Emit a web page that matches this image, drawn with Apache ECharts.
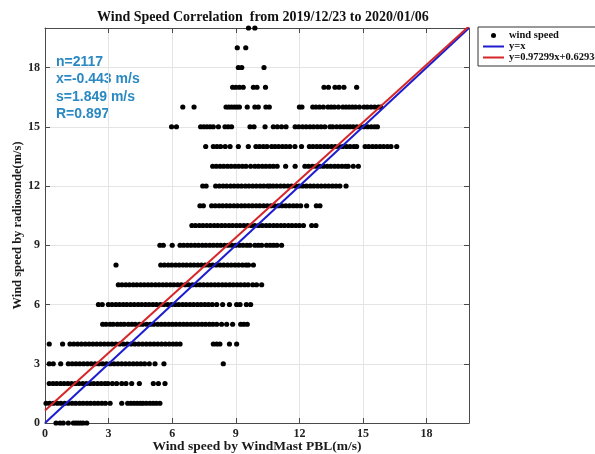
<!DOCTYPE html>
<html>
<head>
<meta charset="utf-8">
<script src="https://cdn.jsdelivr.net/npm/echarts@6/dist/echarts.min.js"></script>
<style>
  html, body { margin: 0; padding: 0; background: #fff; }
  #chart { width: 595px; height: 454px; }
</style>
</head>
<body>
<div id="chart"></div>
<script>
// Radiosonde wind speed levels (m/s) and the WindMast PBL speeds (m/s) observed at each level
const radiosondeLevels = [0, 1, 2, 3, 4, 5, 6, 7, 8, 9, 10, 11, 12, 13, 14, 15, 16, 17, 18, 19, 20];

const ws0 = [0.52, 0.71, 0.86, 1.1, 1.34, 1.45, 1.56, 1.68, 1.8, 1.97];
const ws1 = [0.05, 0.22, 0.4, 0.58, 0.75, 0.93, 1.1, 1.28, 1.45, 1.63, 1.8, 1.98, 2.15, 2.33, 2.5, 2.68, 2.85, 3.07,
  3.62, 3.9, 4.05, 4.2, 4.35, 4.5, 4.62, 4.78, 4.95, 5.1, 5.25, 5.42];
const ws2 = [0.2, 0.38, 0.55, 0.73, 0.9, 1.08, 1.25, 1.43, 1.6, 1.78, 1.95, 2.13, 2.3, 2.48, 2.65, 2.83, 2.97,
  3.18, 3.38, 3.62, 3.82, 4.09, 4.45, 5.11, 5.35, 5.66];
const ws3 = [0.2, 0.39, 0.74, 1.1, 1.28, 1.46, 1.64, 1.82, 2.0, 2.18, 2.36, 2.54, 2.72, 2.9, 3.08, 3.26, 3.44, 3.62,
  3.8, 3.98, 4.16, 4.34, 4.52, 4.7, 4.92, 5.19, 5.61, 8.41];
const ws4 = [0.2, 0.83, 1.18, 1.36, 1.54, 1.72, 1.9, 2.08, 2.26, 2.44, 2.62, 2.8, 2.98, 3.16, 3.34, 3.52, 3.7, 3.88,
  4.06, 4.24, 4.42, 4.6, 4.78, 4.96, 5.14, 5.32, 5.5, 5.68, 5.86, 6.04, 6.2, 6.37, 7.94, 8.1, 8.25, 8.7, 9.04];
const ws5 = [2.72, 2.88, 3.07, 3.22, 3.41, 3.58, 3.74, 3.93, 4.1, 4.26, 4.45, 4.61, 4.8, 4.97, 5.13, 5.32, 5.49, 5.66,
  5.84, 6.01, 6.18, 6.36, 6.53, 6.7, 6.88, 7.05, 7.22, 7.4, 7.57, 7.75, 7.92, 8.1, 8.33, 8.57, 8.85, 9.23, 9.38, 9.54];
const ws6 = [2.52, 2.7, 2.99, 3.16, 3.34, 3.51, 3.69, 3.86, 4.04, 4.21, 4.39, 4.56, 4.74, 4.91, 5.09, 5.26, 5.44,
  5.61, 5.79, 5.96, 6.14, 6.31, 6.49, 6.66, 6.84, 7.01, 7.19, 7.36, 7.54, 7.71, 7.89, 8.1, 8.38, 8.7, 9.04, 9.2, 9.5, 9.7];
const ws7 = [3.46, 3.63, 3.81, 3.98, 4.16, 4.33, 4.51, 4.68, 4.86, 5.03, 5.21, 5.38, 5.56, 5.73, 5.91, 6.08, 6.26,
  6.43, 6.61, 6.78, 6.96, 7.13, 7.31, 7.48, 7.66, 7.83, 8.01, 8.18, 8.36, 8.53, 8.71, 8.88, 9.06, 9.23, 9.41, 9.58,
  9.8, 9.98, 10.22];
const ws8 = [3.35, 5.46, 5.63, 5.81, 5.98, 6.16, 6.33, 6.51, 6.68, 6.86, 7.03, 7.21, 7.38, 7.56, 7.73, 7.91, 8.08,
  8.26, 8.43, 8.61, 8.78, 8.96, 9.13, 9.31, 9.48, 9.6, 9.83];
const ws9 = [5.42, 5.58, 6.0, 6.37, 6.54, 6.72, 6.89, 7.07, 7.24, 7.42, 7.59, 7.77, 7.94, 8.12, 8.29, 8.47, 8.64,
  8.82, 8.99, 9.17, 9.34, 9.52, 9.67, 9.9, 10.06, 10.22, 10.45, 10.62, 10.78, 10.94, 11.16];
const ws10 = [6.93, 7.1, 7.28, 7.45, 7.63, 7.8, 7.98, 8.15, 8.33, 8.5, 8.68, 8.85, 9.03, 9.2, 9.38, 9.55, 9.73, 9.9,
  10.08, 10.25, 10.43, 10.6, 10.78, 10.95, 11.13, 11.3, 11.48, 11.65, 11.83, 12.0, 12.19, 12.58, 12.78];
const ws11 = [7.31, 7.47, 7.86, 8.03, 8.21, 8.38, 8.56, 8.73, 8.91, 9.08, 9.26, 9.43, 9.61, 9.78, 9.96, 10.13, 10.31,
  10.48, 10.66, 10.83, 11.01, 11.18, 11.36, 11.53, 11.71, 11.88, 12.06, 12.34, 12.8, 12.97];
const ws12 = [7.44, 7.6, 8.05, 8.22, 8.4, 8.57, 8.75, 8.92, 9.1, 9.27, 9.45, 9.62, 9.8, 9.97, 10.15, 10.32, 10.5,
  10.61, 10.76, 10.93, 11.11, 11.28, 11.46, 11.63, 11.81, 11.98, 12.16, 12.33, 12.51, 12.68, 12.86, 13.03, 13.21,
  13.38, 13.56, 13.73, 13.91, 14.2];
const ws13 = [7.91, 8.08, 8.26, 8.43, 8.61, 8.78, 8.96, 9.13, 9.31, 9.48, 9.7, 9.9, 10.07, 10.25, 10.42, 10.6, 10.77,
  10.95, 11.35, 11.8, 12.26, 12.43, 12.61, 12.78, 12.96, 13.13, 13.31, 13.48, 13.66, 13.83, 14.01, 14.18, 14.3,
  14.54, 14.78];
const ws14 = [7.58, 7.94, 8.11, 8.28, 8.5, 8.73, 9.12, 9.59, 9.95, 10.12, 10.3, 10.47, 10.69, 10.85, 11.02, 11.2,
  11.37, 11.55, 11.79, 12.1, 12.47, 12.64, 12.82, 12.99, 13.17, 13.34, 13.52, 13.69, 13.87, 14.04, 14.22, 14.39,
  14.57, 14.7, 15.1, 15.27, 15.45, 15.62, 15.8, 15.97, 16.15, 16.32, 16.59];
const ws15 = [5.97, 6.2, 7.34, 7.49, 7.64, 7.79, 7.94, 8.18, 8.49, 8.64, 8.8, 9.67, 9.86, 10.38, 10.77, 10.96, 11.16,
  11.37, 11.8, 11.97, 12.15, 12.32, 12.5, 12.67, 12.85, 13.02, 13.2, 13.44, 13.57, 13.76, 13.93, 14.1, 14.25, 14.39,
  14.54, 14.71, 14.88, 15.05, 15.22, 15.39, 15.55, 15.68];
const ws16 = [6.5, 7.03, 8.54, 8.67, 8.8, 8.93, 9.05, 9.17, 9.54, 9.9, 10.06, 10.42, 10.58, 12.0, 12.12, 12.63, 12.78,
  12.95, 13.13, 13.35, 13.5, 13.65, 13.84, 14.05, 14.2, 14.35, 14.5, 14.65, 14.83, 15.05, 15.2, 15.38, 15.55, 15.72,
  15.83];
const ws17 = [8.85, 9.0, 9.17, 9.35, 9.83, 10.0, 10.4, 13.16, 13.37, 13.68, 13.87, 14.1, 14.7];
const ws18 = [9.12, 9.28, 10.33];
const ws19 = [9.07, 9.47];
const ws20 = [9.6, 9.9];

const mastSpeedsByLevel = [ws0, ws1, ws2, ws3, ws4, ws5, ws6, ws7, ws8, ws9, ws10, ws11, ws12, ws13, ws14, ws15,
  ws16, ws17, ws18, ws19, ws20];

// Linear fit reported in the legend
const fitSlope = 0.97299;
const fitIntercept = 0.62934;
const lineRange = [0, 20];

// Summary statistics shown in the upper-left corner
const statsLines = ['n=2117', 'x=-0.443 m/s', 's=1.849 m/s', 'R=0.897'];

const axisTicks = [0, 3, 6, 9, 12, 15, 18];

const scatterData = [];
radiosondeLevels.forEach(function (level, i) {
  mastSpeedsByLevel[i].forEach(function (x) { scatterData.push([x, level]); });
});
const identityData = lineRange.map(function (x) { return [x, x]; });
const fitData = lineRange.map(function (x) { return [x, fitSlope * x + fitIntercept]; });
const fitLabel = 'y=' + fitSlope + 'x+' + fitIntercept;

const serif = '"Liberation Serif", "DejaVu Serif", serif';
const frameColor = '#4a4a4a';
const tickLabel = { fontFamily: serif, fontWeight: 'bold', fontSize: 12, color: '#222' };

function mainAxis(extra, nameSize) {
  return Object.assign({
    type: 'value', min: 0, max: 20, interval: 3,
    axisLine: { show: true, onZero: false, lineStyle: { color: frameColor, width: 1 } },
    axisTick: { show: true, inside: true, length: 5, lineStyle: { color: frameColor } },
    splitLine: { show: true, lineStyle: { color: '#e4e4e4', width: 1 } },
    axisLabel: Object.assign({ showMaxLabel: false, margin: 5,
      formatter: function (v) { return axisTicks.indexOf(v) >= 0 ? String(v) : ''; } }, tickLabel),
    nameLocation: 'middle',
    nameMoveOverlap: false,
    nameTextStyle: { fontFamily: serif, fontWeight: 'bold', fontSize: nameSize, color: '#1a1a1a' }
  }, extra);
}
function frameAxis(pos) {
  return {
    type: 'value', min: 0, max: 20, interval: 3, position: pos,
    axisLine: { show: true, onZero: false, lineStyle: { color: frameColor, width: 1 } },
    axisTick: { show: true, inside: true, length: 5, lineStyle: { color: frameColor } },
    splitLine: { show: false },
    axisLabel: { show: false }
  };
}

const chart = echarts.init(document.getElementById('chart'), null, { renderer: 'canvas' });
chart.setOption({
  animation: false,
  backgroundColor: '#ffffff',
  title: {
    text: 'Wind Speed Correlation  from 2019/12/23 to 2020/01/06',
    left: 97, top: 10, padding: 0,
    textStyle: { fontFamily: serif, fontWeight: 'bold', fontSize: 14, color: '#111' }
  },
  grid: { left: 45, right: 126, top: 28, bottom: 31, containLabel: false, outerBoundsMode: 'none' },
  xAxis: [
    mainAxis({ name: 'Wind speed by WindMast PBL(m/s)', nameGap: 17, position: 'bottom' }, 13.5),
    frameAxis('top')
  ],
  yAxis: [
    mainAxis({ name: 'Wind speed by radiosonde(m/s)', nameGap: 21, position: 'left' }, 12.5),
    frameAxis('right')
  ],
  legend: {
    orient: 'vertical', left: 478, top: 27,
    padding: [3, 40, 3, 4], itemGap: 0, itemWidth: 21, itemHeight: 5,
    borderColor: '#333', borderWidth: 1,
    textStyle: { fontFamily: serif, fontWeight: 'bold', fontSize: 10.5, lineHeight: 10, color: '#111' },
    data: [
      { name: 'wind speed' },
      { name: 'y=x', itemStyle: { color: 'rgba(0,0,0,0)', opacity: 0 } },
      { name: fitLabel, itemStyle: { color: 'rgba(0,0,0,0)', opacity: 0 } }
    ]
  },
  graphic: [{
    type: 'text', left: 56, top: 53,
    style: {
      text: statsLines.join('\n'),
      font: 'bold 14px "Liberation Sans", Arial, sans-serif',
      lineHeight: 17.5,
      fill: '#2a88c2'
    }
  }],
  series: [
    {
      name: 'wind speed', type: 'scatter', data: scatterData,
      symbol: 'circle', symbolSize: 5.2,
      itemStyle: { color: '#000', opacity: 1 }
    },
    {
      name: 'y=x', type: 'line', data: identityData,
      symbol: 'none', clip: true,
      lineStyle: { color: '#1c1cd0', width: 2 }
    },
    {
      name: fitLabel, type: 'line', data: fitData,
      symbol: 'none', clip: true,
      lineStyle: { color: '#d62629', width: 2 }
    }
  ]
});
</script>
</body>
</html>
